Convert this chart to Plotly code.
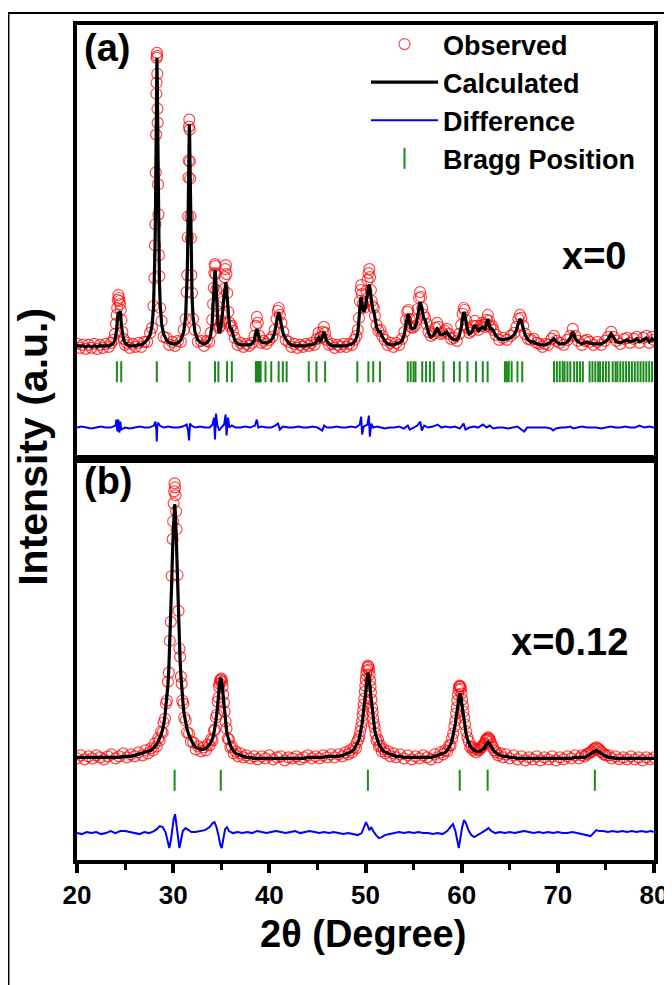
import plotly.graph_objects as go
from plotly.subplots import make_subplots

# ---------------- Panel (a): x = 0 ----------------
tt_a = [20.0, 20.3, 20.6, 20.9, 21.2, 21.5, 21.8, 22.1, 22.4, 22.7,
        23.0, 23.3, 23.55, 23.8, 23.95, 24.05, 24.12, 24.18, 24.24, 24.3,
        24.36, 24.42, 24.48, 24.54, 24.62, 24.72, 24.85, 25.0, 25.2, 25.5,
        25.8, 26.1, 26.4, 26.7, 27.0, 27.3, 27.6, 27.8, 27.95, 28.05,
        28.11, 28.15, 28.19, 28.23, 28.25, 28.27, 28.29, 28.31, 28.33, 28.35,
        28.37, 28.39, 28.43, 28.47, 28.51, 28.57, 28.65, 28.8, 29.0, 29.3,
        29.6, 29.9, 30.2, 30.5, 30.8, 31.1, 31.3, 31.4, 31.47, 31.52,
        31.56, 31.59, 31.62, 31.65, 31.68, 31.71, 31.74, 31.77, 31.8, 31.84,
        31.89, 31.96, 32.06, 32.26, 32.56, 32.9, 33.2, 33.5, 33.75, 33.9,
        34.05, 34.15, 34.22, 34.28, 34.33, 34.37, 34.42, 34.48, 34.55, 34.65,
        34.75, 34.85, 34.95, 35.05, 35.15, 35.25, 35.35, 35.42, 35.48, 35.54,
        35.62, 35.72, 35.85, 35.98, 36.08, 36.2, 36.4, 36.7, 37.0, 37.3,
        37.6, 37.9, 38.2, 38.45, 38.6, 38.7, 38.8, 38.95, 39.15, 39.4,
        39.7, 40.0, 40.3, 40.55, 40.75, 40.88, 40.98, 41.1, 41.25, 41.45,
        41.7, 42.0, 42.3, 42.6, 42.9, 43.2, 43.5, 43.8, 44.1, 44.4,
        44.7, 44.95, 45.12, 45.28, 45.42, 45.56, 45.68, 45.8, 45.95, 46.2,
        46.5, 46.8, 47.1, 47.4, 47.7, 48.0, 48.3, 48.6, 48.85, 49.05,
        49.2, 49.32, 49.42, 49.5, 49.56, 49.64, 49.72, 49.85, 49.98, 50.1,
        50.22, 50.32, 50.4, 50.48, 50.56, 50.65, 50.75, 50.86, 50.98, 51.15,
        51.35, 51.55, 51.75, 52.0, 52.3, 52.6, 52.9, 53.2, 53.5, 53.8,
        54.05, 54.22, 54.35, 54.45, 54.58, 54.75, 54.9, 55.1, 55.3, 55.45,
        55.58, 55.68, 55.78, 55.9, 56.05, 56.2, 56.35, 56.55, 56.8, 57.05,
        57.25, 57.45, 57.6, 57.8, 58.0, 58.25, 58.45, 58.65, 58.9, 59.2,
        59.5, 59.75, 59.95, 60.1, 60.22, 60.32, 60.45, 60.6, 60.8, 61.0,
        61.2, 61.38, 61.55, 61.75, 61.95, 62.15, 62.3, 62.45, 62.6, 62.72,
        62.85, 62.98, 63.15, 63.3, 63.55, 63.9, 64.3, 64.7, 65.1, 65.45,
        65.7, 65.9, 66.05, 66.2, 66.4, 66.6, 66.9, 67.2, 67.5, 67.8,
        68.1, 68.4, 68.7, 69.0, 69.35, 69.6, 69.85, 70.2, 70.6, 71.0,
        71.3, 71.55, 71.8, 72.1, 72.5, 72.8, 73.05, 73.3, 73.7, 74.1,
        74.5, 74.9, 75.25, 75.55, 75.8, 76.1, 76.5, 76.9, 77.2, 77.5,
        77.9, 78.2, 78.5, 78.9, 79.2, 79.5, 79.8, 80.0]

calc_a = [2, 2, 2, 1, 2, 1, 2, 1, 2, 2,
          2, 2, 3, 5, 8, 12, 18, 26, 33, 36,
          35, 34, 37, 33, 22, 13, 8, 5, 3, 2,
          2, 2, 3, 3, 5, 8, 13, 22, 40, 67,
          98, 128, 170, 221, 248, 271, 287, 291, 285, 269,
          246, 219, 170, 128, 98, 67, 44, 24, 14, 8,
          5, 4, 4, 5, 8, 16, 32, 52, 77, 106,
          137, 165, 193, 215, 224, 215, 193, 165, 137, 106,
          77, 52, 32, 16, 8, 5, 4, 5, 8, 13,
          24, 38, 52, 66, 76, 78, 70, 56, 40, 25,
          16, 16, 20, 27, 37, 48, 59, 65, 66, 60,
          47, 32, 22, 19, 19, 14, 8, 4, 3, 3,
          3, 3, 4, 8, 15, 19, 16, 9, 6, 5,
          5, 6, 9, 15, 26, 33, 36, 30, 22, 14,
          9, 5, 3, 2, 2, 2, 2, 2, 3, 3,
          4, 7, 10, 7, 8, 13, 16, 12, 7, 4,
          2, 2, 2, 2, 2, 2, 3, 4, 6, 10,
          15, 25, 40, 49, 51, 45, 38, 36, 40, 48,
          57, 62, 63, 57, 49, 43, 39, 37, 30, 21,
          16, 16, 11, 7, 4, 3, 3, 4, 5, 7,
          14, 25, 33, 34, 26, 20, 19, 20, 25, 34,
          42, 46, 43, 36, 30, 28, 22, 15, 11, 12,
          16, 19, 17, 13, 13, 15, 16, 13, 10, 8,
          8, 12, 20, 30, 36, 34, 26, 18, 14, 15,
          19, 23, 20, 17, 19, 21, 20, 19, 25, 29,
          24, 19, 19, 17, 12, 9, 8, 9, 10, 13,
          18, 25, 29, 27, 20, 13, 8, 6, 6, 4,
          3, 3, 3, 4, 7, 9, 6, 4, 4, 6,
          10, 16, 10, 6, 4, 5, 6, 5, 4, 4,
          4, 6, 9, 14, 10, 6, 5, 7, 8, 6,
          7, 9, 6, 8, 10, 6, 9, 7]

obs_a = [4, 0, 3, -1, 3, 0, 4, -1, 3, 0,
         4, 1, 5, 8, 14, 24, 33, 40, 48, 53,
         50, 47, 44, 38, 28, 16, 9, 3, 5, 0,
         4, 1, 5, 1, 6, 6, 15, 20, 42, 70,
         103, 124, 176, 214, 255, 266, 291, 296, 293, 275,
         240, 226, 164, 134, 93, 72, 40, 27, 11, 10,
         3, 6, 2, 7, 6, 18, 29, 56, 73, 111,
         132, 171, 188, 222, 229, 219, 187, 170, 132, 110,
         73, 55, 29, 18, 6, 7, 2, 7, 6, 15,
         28, 44, 60, 75, 84, 82, 74, 58, 42, 27,
         20, 22, 26, 34, 46, 59, 71, 79, 83, 74,
         55, 36, 25, 21, 22, 17, 10, 3, 5, 1,
         4, 2, 5, 12, 22, 31, 25, 12, 5, 7,
         4, 8, 11, 18, 29, 37, 40, 33, 25, 16,
         8, 6, 1, 4, 0, 3, 1, 4, 2, 5,
         3, 9, 15, 10, 11, 16, 21, 15, 8, 3,
         4, 0, 3, 1, 4, 1, 4, 3, 8, 12,
         18, 30, 47, 58, 63, 54, 44, 40, 46, 57,
         68, 75, 79, 71, 58, 47, 42, 40, 32, 23,
         17, 18, 12, 8, 3, 5, 1, 5, 3, 9,
         16, 28, 36, 38, 29, 21, 20, 22, 28, 39,
         50, 56, 51, 40, 33, 30, 24, 16, 12, 14,
         20, 25, 21, 14, 15, 17, 19, 14, 9, 10,
         7, 14, 23, 34, 40, 38, 28, 20, 15, 17,
         22, 27, 22, 18, 22, 25, 23, 21, 28, 33,
         27, 21, 22, 18, 13, 8, 10, 8, 12, 15,
         21, 29, 33, 30, 22, 14, 9, 8, 9, 5,
         4, 1, 4, 3, 9, 12, 7, 5, 3, 8,
         12, 19, 12, 7, 3, 7, 8, 6, 3, 6,
         3, 7, 11, 16, 11, 7, 4, 9, 10, 5,
         9, 11, 5, 10, 12, 5, 11, 8]

diff_tt_a = [20.0, 20.5, 21.0, 21.5, 22.0, 22.5, 23.0, 23.5, 24.0, 24.1,
             24.2, 24.3, 24.4, 24.5, 24.6, 25.0, 25.5, 26.0, 26.5, 27.0,
             27.5, 28.0, 28.15, 28.25, 28.3, 28.35, 28.45, 28.6, 29.0, 29.5,
             30.0, 30.5, 31.0, 31.4, 31.55, 31.65, 31.75, 31.9, 32.3, 32.8,
             33.3, 33.8, 34.1, 34.25, 34.35, 34.45, 34.6, 34.8, 35.0, 35.3,
             35.45, 35.55, 35.7, 35.85, 36.1, 36.5, 37.0, 37.5, 38.0, 38.5,
             38.7, 38.85, 39.2, 39.7, 40.2, 40.6, 40.9, 41.1, 41.4, 42.0,
             42.5, 43.0, 43.5, 44.0, 44.5, 45.0, 45.5, 45.7, 46.0, 46.5,
             47.0, 47.5, 48.0, 48.5, 49.0, 49.4, 49.55, 49.65, 49.8, 50.2,
             50.35, 50.45, 50.6, 50.8, 51.2, 51.6, 52.0, 52.5, 53.0, 53.5,
             54.0, 54.4, 54.6, 55.0, 55.4, 55.7, 55.85, 56.1, 56.5, 57.0,
             57.5, 57.9, 58.3, 58.8, 59.3, 59.8, 60.2, 60.4, 60.8, 61.3,
             61.7, 62.2, 62.6, 62.9, 63.3, 63.8, 64.3, 64.8, 65.3, 65.8,
             66.2, 66.5, 66.8, 67.3, 67.8, 68.3, 68.8, 69.3, 69.5, 69.8,
             70.3, 70.8, 71.3, 71.6, 72.0, 72.5, 73.0, 73.5, 74.0, 74.5,
             75.0, 75.5, 76.0, 76.5, 77.0, 77.5, 78.0, 78.5, 79.0, 79.5,
             80.0]
diff_a = [0, 1, 0, -1, 0, 1, 0, 0, 2, 8,
          -4, 8, -5, 6, -2, 0, -1, 0, 1, 0,
          0, 2, 6, -2, -14, 2, 5, 2, 0, 1,
          0, 0, 1, 3, -3, -13, 4, 2, 0, 1,
          0, 0, 3, 10, -12, 14, 2, -3, 0, 3,
          13, -8, 10, 0, 2, 0, 0, 1, 0, 2,
          8, 0, 1, 0, 0, 2, 4, -2, 1, 0,
          0, 1, 0, 0, 1, 0, -3, 2, 0, 0,
          1, 0, 0, 1, 0, 3, 11, -7, 1, 3,
          12, -9, 4, 0, 1, 0, -1, 0, 0, 1,
          -1, 2, -2, 0, 2, 6, -3, 2, 0, 1,
          3, 0, 1, 0, 1, -1, 4, -2, 0, 1,
          0, 3, 0, 2, -1, 0, 0, -1, 0, 1,
          -2, -4, 0, 0, 0, 0, 0, -1, -3, -1,
          0, 0, 1, -1, 0, 1, 0, 0, 0, -1,
          0, 1, 0, 0, 1, 0, 0, 2, 0, 1,
          0]

bragg_a = [24.15, 24.6, 28.3, 31.7, 34.35, 34.7, 35.6, 36.1, 38.6, 38.7,
           38.8, 38.9, 39.0, 39.1, 39.6, 40.2, 40.97, 41.4, 41.8, 44.1,
           44.9, 45.8, 49.15, 50.3, 50.8, 51.5, 54.4, 54.7, 55.0, 55.2,
           55.9, 56.3, 56.7, 57.1, 58.1, 59.2, 59.8, 60.6, 61.5, 62.2,
           62.7, 64.5, 64.7, 64.9, 65.2, 65.8, 66.3, 69.6, 69.9, 70.2,
           70.5, 70.7, 71.0, 71.3, 71.7, 72.0, 72.3, 72.6, 73.3, 73.6,
           73.9, 74.2, 74.4, 74.7, 75.0, 75.3, 75.7, 76.0, 76.2, 76.5,
           76.8, 77.1, 77.4, 77.7, 78.0, 78.3, 78.6, 78.9, 79.2, 79.5,
           79.8]

# ---------------- Panel (b): x = 0.12 ----------------
tt_b = [20.0, 20.4, 20.8, 21.2, 21.6, 22.0, 22.4, 22.8, 23.2, 23.6,
        24.0, 24.4, 24.8, 25.2, 25.6, 26.0, 26.4, 26.8, 27.1, 27.4,
        27.7, 27.9, 28.1, 28.3, 28.45, 28.6, 28.75, 28.9, 29.0, 29.15,
        29.25, 29.35, 29.45, 29.55, 29.65, 29.75, 29.85, 29.95, 30.0, 30.05,
        30.1, 30.15, 30.2, 30.25, 30.3, 30.35, 30.45, 30.55, 30.65, 30.72,
        30.8, 30.88, 30.95, 31.05, 31.15, 31.3, 31.45, 31.65, 31.85, 32.1,
        32.35, 32.6, 32.9, 33.15, 33.4, 33.6, 33.8, 33.95, 34.1, 34.25,
        34.35, 34.45, 34.55, 34.62, 34.7, 34.76, 34.82, 34.88, 34.95, 35.02,
        35.08, 35.14, 35.2, 35.28, 35.35, 35.45, 35.55, 35.68, 35.8, 35.95,
        36.1, 36.3, 36.5, 36.75, 37.0, 37.3, 37.6, 38.0, 38.4, 38.8,
        39.2, 39.6, 40.0, 40.4, 40.8, 41.2, 41.6, 42.0, 42.4, 42.8,
        43.2, 43.6, 44.0, 44.4, 44.8, 45.2, 45.6, 46.0, 46.4, 46.8,
        47.2, 47.6, 47.9, 48.2, 48.4, 48.6, 48.8, 49.0, 49.1, 49.25,
        49.35, 49.45, 49.55, 49.63, 49.7, 49.76, 49.82, 49.88, 49.93, 49.98,
        50.03, 50.08, 50.13, 50.19, 50.25, 50.31, 50.37, 50.42, 50.47, 50.52,
        50.57, 50.62, 50.68, 50.74, 50.8, 50.87, 50.95, 51.05, 51.15, 51.3,
        51.4, 51.55, 51.7, 51.9, 52.1, 52.35, 52.6, 52.9, 53.2, 53.6,
        54.0, 54.4, 54.8, 55.2, 55.6, 56.0, 56.4, 56.8, 57.2, 57.5,
        57.8, 58.05, 58.3, 58.5, 58.7, 58.85, 59.0, 59.12, 59.25, 59.35,
        59.42, 59.49, 59.55, 59.62, 59.68, 59.74, 59.8, 59.86, 59.92, 59.98,
        60.05, 60.12, 60.18, 60.26, 60.35, 60.47, 60.6, 60.75, 60.9, 61.05,
        61.2, 61.35, 61.5, 61.65, 61.8, 61.95, 62.05, 62.2, 62.3, 62.4,
        62.5, 62.58, 62.65, 62.75, 62.83, 62.9, 63.0, 63.1, 63.25, 63.4,
        63.6, 63.8, 64.05, 64.3, 64.6, 65.0, 65.4, 65.8, 66.2, 66.6,
        67.0, 67.4, 67.8, 68.2, 68.6, 69.0, 69.4, 69.8, 70.2, 70.6,
        71.0, 71.4, 71.8, 72.2, 72.5, 72.8, 73.0, 73.2, 73.4, 73.55,
        73.7, 73.85, 74.0, 74.15, 74.3, 74.45, 74.6, 74.8, 75.0, 75.3,
        75.6, 76.0, 76.4, 76.8, 77.2, 77.6, 78.0, 78.4, 78.8, 79.2,
        79.6, 80.0]

calc_b = [3, 3, 3, 3, 3, 3, 3, 3, 3, 3,
          3, 3, 4, 4, 4, 5, 6, 7, 8, 9,
          10, 12, 14, 16, 19, 22, 26, 31, 35, 45,
          53, 63, 75, 92, 116, 144, 179, 215, 230, 245,
          253, 257, 253, 245, 230, 215, 179, 144, 116, 100,
          86, 74, 64, 54, 46, 37, 31, 25, 21, 16,
          13, 12, 11, 11, 12, 14, 16, 19, 22, 28,
          33, 40, 48, 56, 65, 71, 78, 81, 83, 81,
          77, 71, 64, 55, 46, 37, 30, 24, 19, 15,
          12, 9, 7, 6, 5, 4, 3, 3, 2, 2,
          2, 2, 2, 2, 2, 2, 2, 2, 2, 2,
          2, 2, 3, 3, 3, 3, 3, 4, 4, 4,
          4, 5, 6, 7, 8, 9, 11, 14, 16, 19,
          22, 26, 31, 36, 41, 46, 51, 57, 63, 68,
          74, 78, 83, 86, 88, 86, 83, 78, 74, 68,
          63, 57, 51, 46, 41, 36, 31, 26, 22, 19,
          16, 13, 11, 9, 8, 7, 6, 5, 4, 4,
          3, 3, 3, 3, 3, 3, 3, 3, 4, 5,
          6, 7, 8, 10, 13, 16, 20, 25, 31, 37,
          43, 48, 54, 59, 64, 66, 67, 66, 64, 59,
          54, 48, 44, 38, 32, 26, 21, 17, 14, 12,
          11, 10, 9, 9, 9, 9, 10, 11, 12, 13,
          15, 16, 17, 18, 17, 17, 15, 13, 11, 9,
          7, 6, 5, 4, 4, 3, 3, 2, 2, 2,
          2, 2, 2, 2, 2, 2, 2, 2, 2, 2,
          2, 2, 3, 3, 3, 3, 4, 5, 6, 7,
          8, 9, 10, 9, 8, 7, 6, 5, 4, 3,
          3, 2, 2, 2, 2, 2, 2, 2, 2, 2,
          2, 2]

obs_b = [2, 5, 1, 4, 2, 5, 3, 1, 4, 6,
         2, 4, 7, 3, 6, 4, 8, 5, 10, 7,
         12, 10, 17, 14, 22, 20, 29, 28, 38, 42,
         57, 60, 79, 88, 120, 139, 185, 222, 240, 258,
         270, 278, 274, 266, 250, 232, 186, 150, 112, 104,
         84, 77, 60, 57, 43, 40, 28, 27, 19, 18,
         11, 14, 9, 13, 10, 16, 15, 21, 20, 30,
         31, 43, 46, 59, 63, 74, 77, 80, 81, 82,
         79, 74, 66, 58, 49, 39, 32, 22, 21, 13,
         14, 7, 9, 4, 7, 3, 5, 2, 4, 1,
         4, 2, 5, 1, 3, 4, 0, 3, 2, 4,
         1, 3, 5, 2, 4, 2, 5, 3, 6, 3,
         6, 4, 8, 6, 10, 8, 13, 12, 18, 21,
         24, 29, 34, 39, 45, 50, 56, 62, 69, 75,
         81, 86, 90, 93, 95, 94, 91, 86, 80, 74,
         68, 61, 53, 48, 42, 37, 33, 27, 20, 21,
         14, 15, 9, 11, 7, 9, 4, 7, 3, 6,
         2, 5, 1, 4, 2, 5, 3, 1, 6, 3,
         8, 6, 10, 9, 15, 15, 22, 27, 34, 40,
         47, 53, 60, 66, 71, 74, 75, 74, 72, 67,
         61, 55, 49, 43, 36, 29, 23, 19, 13, 14,
         10, 12, 8, 11, 10, 12, 13, 15, 16, 17,
         20, 21, 22, 23, 22, 21, 19, 16, 13, 10,
         8, 5, 7, 3, 6, 2, 5, 1, 4, 0,
         3, 1, 4, 0, 3, 1, 4, 0, 3, 1,
         4, 2, 5, 2, 5, 4, 6, 7, 8, 9,
         11, 12, 13, 12, 11, 9, 8, 6, 5, 5,
         2, 4, 1, 3, 1, 4, 1, 3, 0, 3,
         1, 3]

diff_tt_b = [20.0, 20.5, 21.0, 21.5, 22.0, 22.5, 23.0, 23.5, 24.0, 24.5,
             25.0, 25.5, 26.0, 26.5, 27.0, 27.5, 28.0, 28.3, 28.6, 28.9,
             29.2, 29.45, 29.6, 29.75, 29.9, 30.05, 30.2, 30.35, 30.5, 30.65,
             30.8, 31.0, 31.3, 31.6, 31.9, 32.3, 32.8, 33.3, 33.8, 34.1,
             34.3, 34.5, 34.75, 34.9, 35.05, 35.2, 35.4, 35.6, 35.8, 36.2,
             36.7, 37.2, 37.7, 38.2, 38.7, 39.2, 39.7, 40.2, 40.7, 41.2,
             41.7, 42.2, 42.7, 43.2, 43.7, 44.2, 44.7, 45.2, 45.7, 46.2,
             46.7, 47.2, 47.7, 48.2, 48.7, 49.2, 49.6, 49.9, 50.05, 50.2,
             50.4, 50.6, 50.8, 51.1, 51.4, 51.7, 52.0, 52.5, 53.0, 53.5,
             54.0, 54.5, 55.0, 55.5, 56.0, 56.5, 57.0, 57.5, 58.0, 58.5,
             58.9, 59.1, 59.35, 59.55, 59.7, 59.85, 60.05, 60.25, 60.45, 60.7,
             61.0, 61.3, 61.6, 62.0, 62.5, 62.8, 63.1, 63.5, 64.0, 64.5,
             65.0, 65.5, 66.0, 66.5, 67.0, 67.5, 68.0, 68.5, 69.0, 69.5,
             70.0, 70.5, 71.0, 71.5, 72.0, 72.5, 73.0, 73.4, 73.7, 74.0,
             74.3, 74.7, 75.2, 75.7, 76.2, 76.7, 77.2, 77.7, 78.2, 78.7,
             79.2, 79.7, 80.0]
diff_b = [0, -1, 1, 0, 1, -1, 0, 2, 0, 2,
          2, 1, 0, -1, 1, 0, 2, 4, 7, 6,
          1, -8, -15, -8, 4, 14, 19, 8, -5, -15,
          -8, 2, 5, 3, 1, 1, 2, 3, 6, 10,
          11, 6, -4, -12, -15, -6, 4, 6, 2, 0,
          1, 0, 1, 0, 2, 1, 0, 1, 2, 1,
          0, 1, 2, 0, 1, 2, 1, 0, 1, 0,
          1, 0, -1, 0, -1, -2, 0, 7, 11, 8,
          3, 6, 2, -2, -5, -4, -2, -1, 0, 1,
          0, 1, 0, 1, 0, 0, -1, 0, -1, 2,
          7, 9, 2, -10, -15, -6, 6, 13, 10, 3,
          -2, -4, -2, 0, 3, 5, 2, 0, 1, 0,
          1, 0, 1, 2, 1, 0, 1, 0, 1, 0,
          1, 0, 0, 1, 0, -1, -2, -3, 0, 3,
          2, 2, 1, 2, 1, 2, 1, 2, 1, 2,
          1, 2, 1]

bragg_b = [30.15, 34.95, 50.25, 59.8, 62.7, 73.85]

x_ticks = [20, 30, 40, 50, 60, 70, 80]
legend_names = ["Observed", "Calculated", "Difference", "Bragg Position"]
panel_labels = ["(a)", "(b)"]
comp_labels = ["x=0", "x=0.12"]

# ---------------- offsets / styles ----------------
BRAGG_Y_A, DIFF_Y_A = -24, -80
BRAGG_Y_B, DIFF_Y_B = -20, -73
FONT = "Liberation Sans, Arial, Helvetica, sans-serif"
RED = "rgba(255,0,0,0.72)"
GREEN = "#1a8a1a"
BLUE = "#0000ff"

fig = make_subplots(rows=2, cols=1, shared_xaxes=True, vertical_spacing=0,
                    row_heights=[436, 402])

panels = [
    (1, tt_a, obs_a, calc_a, diff_tt_a, diff_a, bragg_a, BRAGG_Y_A, DIFF_Y_A, True),
    (2, tt_b, obs_b, calc_b, diff_tt_b, diff_b, bragg_b, BRAGG_Y_B, DIFF_Y_B, False),
]
for row, tt, obs, calc, dtt, dif, bragg, by, dy, show in panels:
    fig.add_trace(go.Scatter(
        x=tt, y=obs, mode="markers", name=legend_names[0], showlegend=show,
        marker=dict(symbol="circle-open", size=11, color=RED, line=dict(width=1.2))),
        row=row, col=1)
    fig.add_trace(go.Scatter(
        x=tt, y=calc, mode="lines", name=legend_names[1], showlegend=show,
        line=dict(color="black", width=3.2)), row=row, col=1)
    fig.add_trace(go.Scatter(
        x=dtt, y=[d + dy for d in dif], mode="lines", name=legend_names[2],
        showlegend=show, line=dict(color=BLUE, width=2)), row=row, col=1)
    fig.add_trace(go.Scatter(
        x=bragg, y=[by] * len(bragg), mode="markers", name=legend_names[3],
        showlegend=show,
        marker=dict(symbol="line-ns", size=15, color=GREEN,
                    line=dict(width=2, color=GREEN))), row=row, col=1)

axis_line = dict(showline=True, linecolor="black", linewidth=4, mirror=True,
                 showgrid=False, zeroline=False)
fig.update_xaxes(range=[20, 80], **axis_line)
fig.update_xaxes(showticklabels=False, ticks="", row=1, col=1)
fig.update_xaxes(tickmode="array", tickvals=x_ticks, ticks="outside",
                 ticklen=9, tickwidth=3.5, tickcolor="black",
                 minor=dict(dtick=5, tick0=20, ticks="outside", ticklen=6,
                            tickwidth=3, tickcolor="black"),
                 tickfont=dict(family=FONT, size=26, color="black", weight="bold"),
                 row=2, col=1)
fig.update_yaxes(showticklabels=False, ticks="", **axis_line)
fig.update_yaxes(range=[-112, 324], row=1, col=1)
fig.update_yaxes(range=[-100, 302], row=2, col=1)

# The page body adds an 8 px offset; plot area is placed at page x 77..658, y 22..860.
OFF = 8
W, H = 672, 985
L, R, T, B = 77 - OFF, W - (658 - OFF), 22 - OFF, H - (860 - OFF)
pw, ph = W - L - R, H - T - B


def px(x):
    """page x (pixels) -> paper coordinate"""
    return (x - OFF - L) / pw


def py(y):
    """page y (pixels) -> paper coordinate"""
    return (H - B - (y - OFF)) / ph


annots = [
    dict(text=panel_labels[0], x=px(82), y=py(45), xanchor="left", size=38),
    dict(text=panel_labels[1], x=px(82), y=py(480), xanchor="left", size=38),
    dict(text=comp_labels[0], x=px(598), y=py(254), xanchor="center", size=38),
    dict(text=comp_labels[1], x=px(573), y=py(641), xanchor="center", size=38),
]
for a in annots:
    fig.add_annotation(text=a["text"], x=a["x"], y=a["y"], xref="paper", yref="paper",
                       xanchor=a["xanchor"], yanchor="middle", showarrow=False,
                       font=dict(family=FONT, size=a["size"], color="black", weight="bold"))

fig.add_annotation(text="Intensity (a.u.)", x=px(33), y=py(445), xref="paper", yref="paper",
                   textangle=-90, showarrow=False, xanchor="center", yanchor="middle",
                   font=dict(family=FONT, size=41, color="black", weight="bold"))
fig.add_annotation(text="2θ (Degree)", x=px(365), y=py(934), xref="paper", yref="paper",
                   showarrow=False, xanchor="center", yanchor="middle",
                   font=dict(family=FONT, size=38, color="black", weight="bold"))

# outer frame of the figure
fig.add_shape(type="rect", xref="paper", yref="paper",
              x0=px(8), x1=px(720), y0=py(1040), y1=py(10),
              line=dict(color="black", width=2), layer="above")

fig.update_layout(
    width=W, height=H,
    margin=dict(l=L, r=R, t=T, b=B),
    paper_bgcolor="white", plot_bgcolor="white",
    font=dict(family=FONT, color="black"),
    legend=dict(x=px(368), y=py(17), xanchor="left", yanchor="top",
                bgcolor="rgba(0,0,0,0)", borderwidth=0, itemwidth=67,
                tracegroupgap=0,
                font=dict(family=FONT, size=27, color="black", weight="bold")),
)

fig.write_html("out.html")
